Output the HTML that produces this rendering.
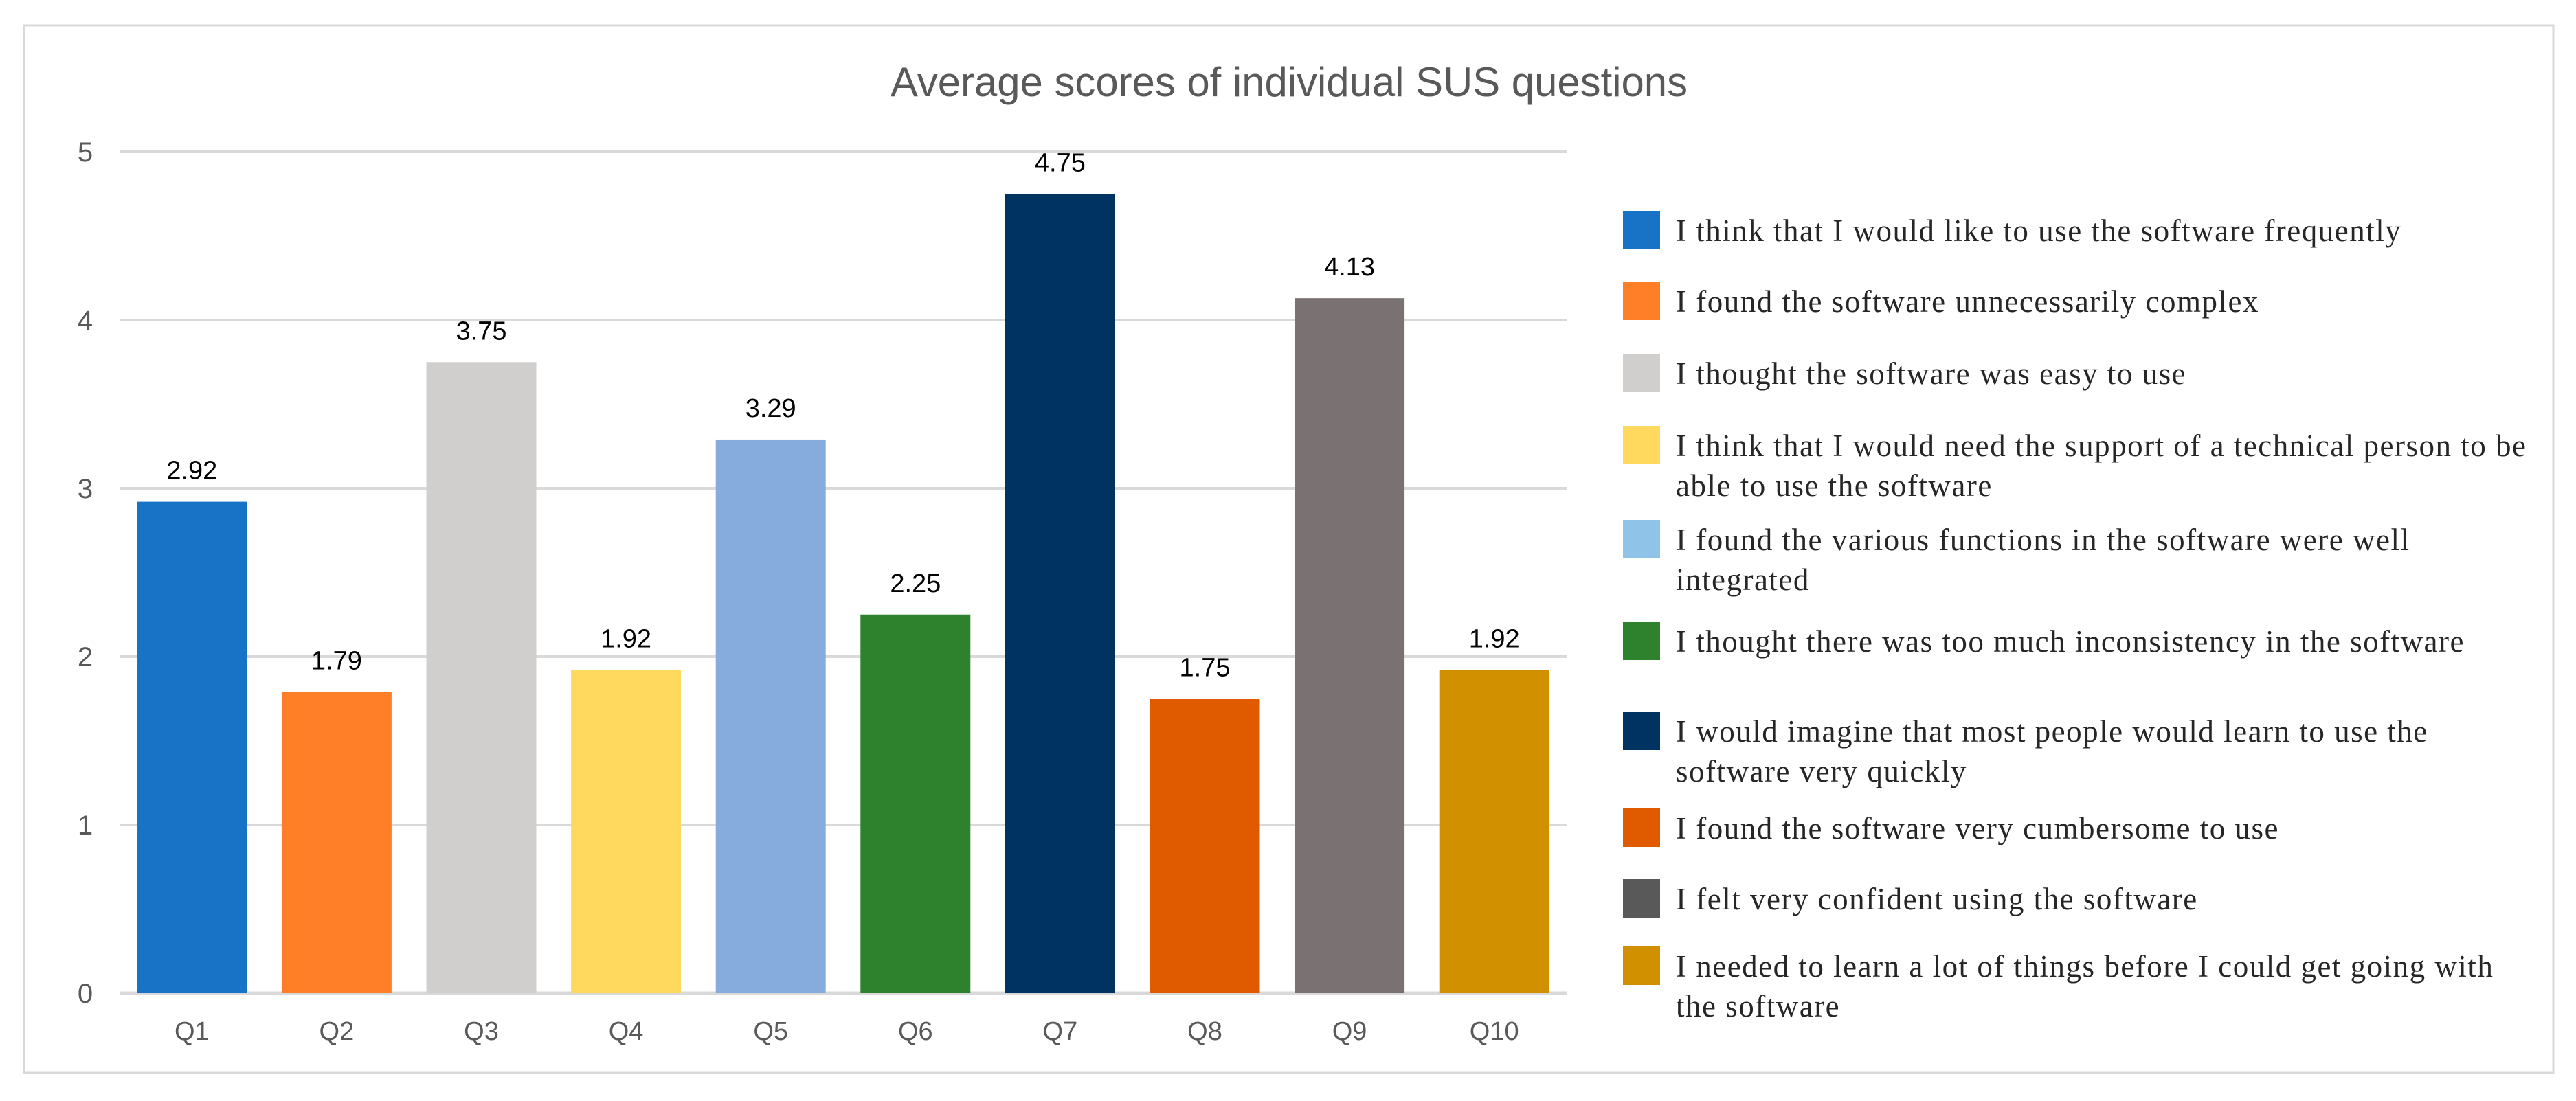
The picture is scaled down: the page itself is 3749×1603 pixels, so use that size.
<!DOCTYPE html>
<html><head><meta charset="utf-8"><style>
html,body{margin:0;padding:0;background:#fff;}
svg{display:block;}
</style></head><body>
<svg id="chart" width="3749" height="1603" viewBox="0 0 3749 1603" xmlns="http://www.w3.org/2000/svg">
<rect x="0" y="0" width="3749" height="1603" fill="#fff"/>
<rect x="35" y="37" width="3681" height="1525" fill="#fff" stroke="#d9d9d9" stroke-width="3"/>
<text x="1876" y="140" text-anchor="middle" font-family="Liberation Sans, sans-serif" font-size="60" fill="#595959" textLength="1160" lengthAdjust="spacingAndGlyphs">Average scores of individual SUS questions</text>
<g id="grid"></g>
<g id="bars"></g>
<g id="legend"></g>
</svg>
<script>
const categories = ["Q1","Q2","Q3","Q4","Q5","Q6","Q7","Q8","Q9","Q10"];
const values = [2.92,1.79,3.75,1.92,3.29,2.25,4.75,1.75,4.13,1.92];
const valueLabels = ["2.92","1.79","3.75","1.92","3.29","2.25","4.75","1.75","4.13","1.92"];
const yTicks = [0,1,2,3,4,5];
const barColors = ["#1873c7","#fe7f27","#d0cfcd","#fed95e","#85acdc","#2e822e","#003361","#e05a00","#7a7272","#d09000"];
const legendColors = ["#1873c7","#fe7f27","#d0cfcd","#fed95e","#8fc3e8","#2e822e","#003361","#e05a00","#595959","#d09000"];
const legendLabels = [
 ["I think that I would like  to use the software frequently"],
 ["I found the software unnecessarily complex"],
 ["I thought the software was easy to use"],
 ["I think that I would need the support of a technical person to be","able to use the software"],
 ["I found the various functions in the software were well","integrated"],
 ["I thought there was too much inconsistency in the software"],
 ["I would imagine  that most people would learn to use the","software very quickly"],
 ["I found the software very cumbersome  to use"],
 ["I felt very confident using the software"],
 ["I needed to learn a lot of things before I could get going with","the software"]
];
const NS="http://www.w3.org/2000/svg";
const plotL=174, plotR=2280, y0=1446, unit=245;
const band=(plotR-plotL)/categories.length, barW=160;
function yScale(v){return y0-v*unit;}
function xCenter(i){return plotL+band*(i+0.5);}
function mk(tag,attrs,parent){const e=document.createElementNS(NS,tag);for(const k in attrs)e.setAttribute(k,attrs[k]);parent.appendChild(e);return e;}
const grid=document.getElementById('grid'), bars=document.getElementById('bars'), legend=document.getElementById('legend');
yTicks.forEach(t=>{
  const l=mk('line',{x1:plotL,x2:plotR,y1:yScale(t),y2:yScale(t),stroke:'#d9d9d9','stroke-width':t===0?5:4},grid);
  
  
  const tx=mk('text',{x:124,y:yScale(t)+14,'text-anchor':'middle','font-family':'Liberation Sans, sans-serif','font-size':40,fill:'#595959'},grid);
  tx.textContent=String(t);
  
  
});
categories.forEach((c,i)=>{
  const cx=xCenter(i);
  const r=mk('rect',{x:cx-barW/2,y:yScale(values[i]),width:barW,height:y0-yScale(values[i]),fill:barColors[i]},bars);
  
  
  const v=mk('text',{x:cx,y:yScale(values[i])-33,'text-anchor':'middle','font-family':'Liberation Sans, sans-serif','font-size':38,fill:'#000'},bars);
  v.textContent=valueLabels[i];
  
  
  const xl=mk('text',{x:cx,y:1514,'text-anchor':'middle','font-family':'Liberation Sans, sans-serif','font-size':38,fill:'#595959'},bars);
  xl.textContent=c;
  
  
});
const rowY=[337,440,545,650,787,935,1066,1207,1310,1408];
legendLabels.forEach((lines,i)=>{
  const g=mk('g',{},legend);
  
  
  mk('rect',{x:2362,y:rowY[i]-30,width:54,height:56,fill:legendColors[i]},g);
  lines.forEach((ln,j)=>{
    const t=mk('text',{x:2439,y:rowY[i]+14+j*58,'font-family':'Liberation Serif, serif','font-size':45,'letter-spacing':1.5,fill:'#262626'},g);
    t.textContent=ln;
  });
});
</script>
</body></html>
